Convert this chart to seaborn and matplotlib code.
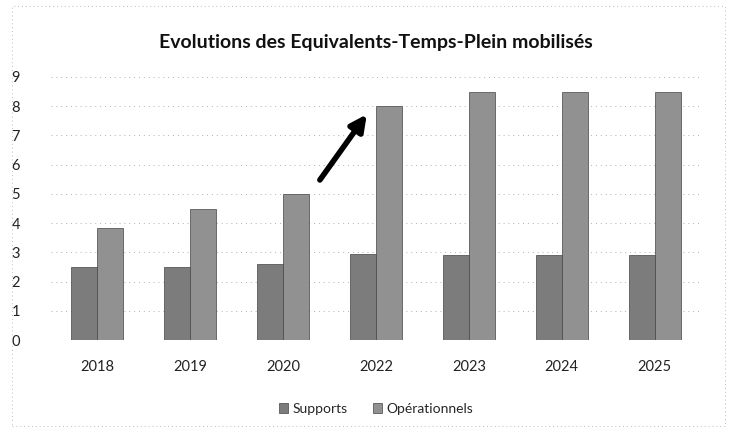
import matplotlib
matplotlib.use("Agg")
import matplotlib.pyplot as plt
import seaborn as sns
import pandas as pd

years = ["2018", "2019", "2020", "2022", "2023", "2024", "2025"]
supports = [2.5, 2.5, 2.6, 2.95, 2.9, 2.9, 2.9]
operationnels = [3.85, 4.5, 5.0, 8.0, 8.5, 8.5, 8.5]
series = ["Supports", "Opérationnels"]

df = pd.DataFrame({
    "annee": years * 2,
    "etp": supports + operationnels,
    "type": [series[0]] * len(years) + [series[1]] * len(years),
})

sns.set_style("white")
plt.rcParams["font.family"] = ["Lato", "DejaVu Sans"]

fig = plt.figure(figsize=(7.32, 4.30), dpi=100)
ax = fig.add_axes([0.069, 0.209, 0.889, 0.612])

sns.barplot(data=df, x="annee", y="etp", hue="type", ax=ax,
            palette=["#7c7c7c", "#919191"], width=0.56, gap=0,
            edgecolor="#444444", linewidth=0.5)

ax.set_ylim(0, 9)
ax.set_yticks(range(10))
ax.yaxis.grid(True, linestyle=(0, (1, 4)), color="#b0b0b0", linewidth=0.7)
ax.set_axisbelow(True)
for s in ax.spines.values():
    s.set_visible(False)
ax.tick_params(axis="both", length=0, labelsize=10.5, colors="#222222")
ax.tick_params(axis="y", pad=22)
ax.tick_params(axis="x", pad=14)
ax.set_xlabel("")
ax.set_ylabel("")

ax.set_title("Evolutions des Equivalents-Temps-Plein mobilisés",
             fontsize=14, fontweight="bold", color="#111111", pad=21)

ax.annotate("", xy=(2.92, 7.8), xytext=(2.38, 5.4),
            arrowprops=dict(arrowstyle="-|>", color="black", lw=4,
                            mutation_scale=24))

ax.legend(loc="upper center", bbox_to_anchor=(0.5, -0.19), ncol=2,
          frameon=False, fontsize=10, handlelength=0.7, handleheight=0.7,
          handletextpad=0.3, columnspacing=1.8)

# bordure pointillée du graphique
border = plt.Rectangle((0.016, 0.01), 0.975, 0.975, transform=fig.transFigure,
                       fill=False, edgecolor="#bbbbbb", linestyle=(0, (1, 3)),
                       linewidth=0.7)
fig.patches.append(border)

fig.savefig("out.png", dpi=100)
